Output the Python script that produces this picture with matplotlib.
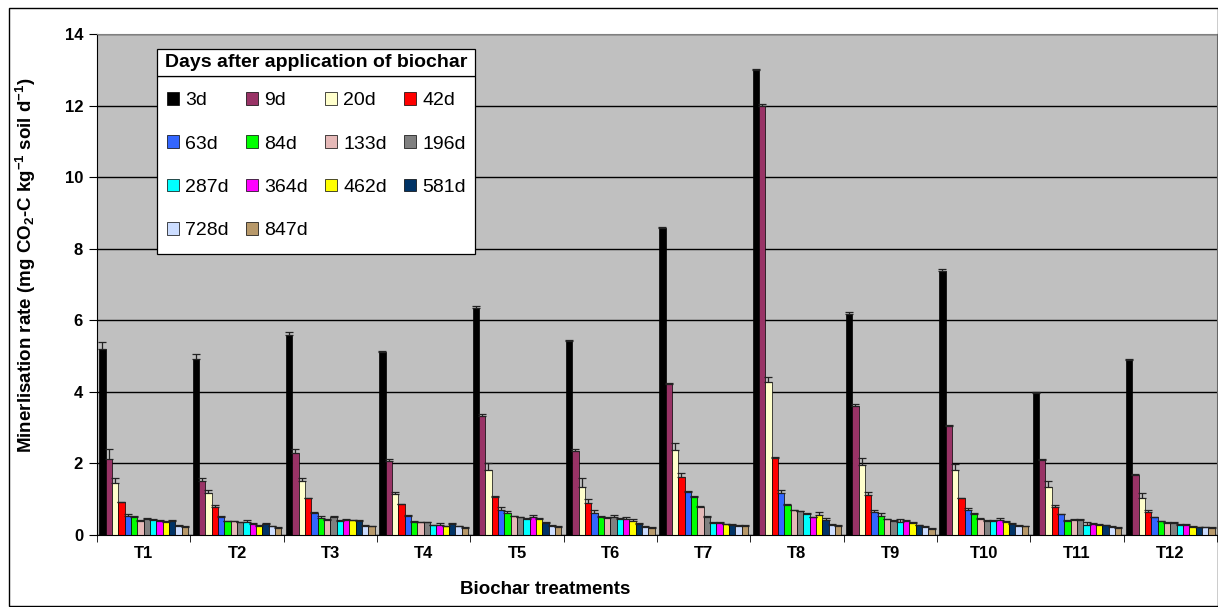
import matplotlib.pyplot as plt
import numpy as np
from matplotlib.patches import Rectangle

plt.rcParams['font.family'] = ['Liberation Sans', 'DejaVu Sans']
plt.rcParams['mathtext.fontset'] = 'custom'
plt.rcParams['mathtext.rm'] = 'Liberation Sans:bold'
plt.rcParams['mathtext.it'] = 'Liberation Sans:bold'
plt.rcParams['mathtext.bf'] = 'Liberation Sans:bold'
plt.rcParams['mathtext.default'] = 'rm'

treatments = ["T1", "T2", "T3", "T4", "T5", "T6", "T7", "T8", "T9", "T10", "T11", "T12"]
days = ["3d", "9d", "20d", "42d", "63d", "84d", "133d", "196d", "287d", "364d", "462d", "581d", "728d", "847d"]
colors = ["#000000", "#993366", "#FFFFCC", "#FF0000", "#3366FF", "#00FF00", "#E6B9B8",
          "#808080", "#00FFFF", "#FF00FF", "#FFFF00", "#003366", "#CCDDFF", "#B8996A"]

# mineralisation rate per sampling day, one value per treatment
r3d = [5.20, 4.91, 5.59, 5.11, 6.34, 5.42, 8.57, 13.0, 6.18, 7.37, 3.96, 4.89]
r9d = [2.12, 1.52, 2.30, 2.07, 3.33, 2.35, 4.22, 12.0, 3.60, 3.05, 2.09, 1.67]
r20d = [1.44, 1.17, 1.50, 1.15, 1.81, 1.35, 2.38, 4.28, 1.97, 1.83, 1.33, 1.02]
r42d = [0.91, 0.79, 1.02, 0.86, 1.06, 0.90, 1.63, 2.15, 1.13, 1.02, 0.77, 0.64]
r63d = [0.53, 0.49, 0.61, 0.54, 0.70, 0.62, 1.21, 1.18, 0.65, 0.71, 0.58, 0.49]
r84d = [0.51, 0.38, 0.47, 0.36, 0.62, 0.51, 1.05, 0.85, 0.54, 0.60, 0.40, 0.38]
r133d = [0.39, 0.38, 0.42, 0.35, 0.52, 0.47, 0.78, 0.69, 0.44, 0.46, 0.42, 0.34]
r196d = [0.45, 0.35, 0.49, 0.35, 0.49, 0.49, 0.51, 0.66, 0.40, 0.39, 0.42, 0.34]
r287d = [0.43, 0.35, 0.40, 0.27, 0.45, 0.45, 0.33, 0.59, 0.35, 0.39, 0.28, 0.29]
r364d = [0.39, 0.31, 0.41, 0.28, 0.51, 0.45, 0.33, 0.49, 0.39, 0.43, 0.32, 0.28]
r462d = [0.37, 0.25, 0.41, 0.24, 0.45, 0.39, 0.30, 0.56, 0.33, 0.36, 0.29, 0.23]
r581d = [0.40, 0.31, 0.40, 0.31, 0.34, 0.31, 0.28, 0.42, 0.27, 0.32, 0.27, 0.21]
r728d = [0.26, 0.24, 0.25, 0.24, 0.26, 0.23, 0.26, 0.29, 0.23, 0.26, 0.22, 0.21]
r847d = [0.23, 0.20, 0.24, 0.19, 0.23, 0.20, 0.26, 0.25, 0.18, 0.24, 0.20, 0.20]

# upper error bars
e3d = [0.20, 0.15, 0.08, 0.03, 0.05, 0.03, 0.03, 0.03, 0.05, 0.06, 0.03, 0.03]
e9d = [0.29, 0.08, 0.10, 0.04, 0.05, 0.05, 0.03, 0.03, 0.05, 0.03, 0.03, 0.03]
e20d = [0.15, 0.10, 0.08, 0.06, 0.20, 0.25, 0.18, 0.14, 0.19, 0.16, 0.18, 0.14]
e42d = [0.02, 0.06, 0.02, 0.02, 0.02, 0.10, 0.10, 0.03, 0.07, 0.02, 0.08, 0.07]
e63d = [0.07, 0.03, 0.02, 0.02, 0.07, 0.08, 0.03, 0.09, 0.05, 0.05, 0.02, 0.02]
e84d = [0.03, 0.02, 0.06, 0.02, 0.06, 0.02, 0.05, 0.02, 0.07, 0.02, 0.02, 0.02]
e133d = [0.02, 0.02, 0.02, 0.02, 0.02, 0.02, 0.03, 0.02, 0.02, 0.02, 0.02, 0.02]
e196d = [0.03, 0.02, 0.03, 0.02, 0.02, 0.07, 0.02, 0.02, 0.02, 0.02, 0.02, 0.02]
e287d = [0.03, 0.06, 0.02, 0.02, 0.02, 0.02, 0.02, 0.02, 0.09, 0.02, 0.07, 0.02]
e364d = [0.03, 0.02, 0.04, 0.06, 0.06, 0.06, 0.02, 0.02, 0.02, 0.05, 0.02, 0.02]
e462d = [0.02, 0.02, 0.02, 0.02, 0.02, 0.06, 0.02, 0.07, 0.04, 0.02, 0.02, 0.02]
e581d = [0.02, 0.02, 0.02, 0.02, 0.02, 0.02, 0.02, 0.05, 0.02, 0.02, 0.02, 0.02]
e728d = [0.02, 0.02, 0.02, 0.02, 0.02, 0.02, 0.02, 0.02, 0.02, 0.02, 0.02, 0.02]
e847d = [0.02, 0.02, 0.02, 0.02, 0.02, 0.02, 0.02, 0.02, 0.02, 0.02, 0.02, 0.02]

rates = [r3d, r9d, r20d, r42d, r63d, r84d, r133d, r196d, r287d, r364d, r462d, r581d, r728d, r847d]
errors = [e3d, e9d, e20d, e42d, e63d, e84d, e133d, e196d, e287d, e364d, e462d, e581d, e728d, e847d]

W, H = 1218, 607
fig = plt.figure(figsize=(W / 100, H / 100), dpi=100)
ax_l, ax_r, ax_t, ax_b = 97, 1217, 34, 535
ax = fig.add_axes([ax_l / W, 1 - ax_b / H, (ax_r - ax_l) / W, (ax_b - ax_t) / H])
ax.set_facecolor("#C0C0C0")

x = np.arange(len(treatments))
n = len(days)
bw = 0.068
handles = []
for j, (vals, errs) in enumerate(zip(rates, errors)):
    pos = x + (j - (n - 1) / 2) * bw
    b = ax.bar(pos, vals, width=bw, color=colors[j], edgecolor="black", linewidth=0.5,
               label=days[j], zorder=2)
    handles.append(b)
    ax.errorbar(pos, vals, yerr=[np.zeros(len(vals)), errs], fmt="none",
                ecolor="#222222", elinewidth=0.9, capsize=2.8, capthick=0.9, zorder=3)

ax.set_xlim(-0.5, len(treatments) - 0.5)
ax.set_ylim(0, 14)
ax.set_yticks(np.arange(0, 15, 2))
ax.yaxis.grid(True, color="black", linewidth=1.0)
ax.set_axisbelow(True)
ax.set_xticks(x)
ax.set_xticklabels(treatments, fontsize=12, fontweight="bold")
ax.set_xticks(np.arange(-0.5, len(treatments)), minor=True)
ax.tick_params(axis="x", which="major", length=0, pad=8)
ax.tick_params(axis="x", which="minor", length=5, direction="out", color="black")
ax.tick_params(axis="y", length=6, direction="out", labelsize=12, pad=4)
for lab in ax.get_yticklabels():
    lab.set_fontweight("bold")
for s in ["top", "right"]:
    ax.spines[s].set_color("#808080")
ax.spines["left"].set_color("black")
ax.spines["bottom"].set_color("black")

ax.set_ylabel(r"Minerlisation rate (mg CO$_2$-C kg$^{-1}$ soil d$^{-1}$)",
              fontsize=13.5, fontweight="bold")
ax.yaxis.set_label_coords((38 - ax_l) / (ax_r - ax_l), (ax_b - 265) / (ax_b - ax_t))
fig.text(545 / W, 1 - 590 / H, "Biochar treatments", fontsize=13.5, fontweight="bold",
         ha="center", va="center")


def ax_xy(px, py):
    return (px - ax_l) / (ax_r - ax_l), (ax_b - py) / (ax_b - ax_t)


# legend frame + title box
x0, y0 = ax_xy(157, 254)
x1, y1 = ax_xy(475, 76)
ax.add_patch(Rectangle((x0, y0), x1 - x0, y1 - y0, transform=ax.transAxes,
                       facecolor="white", edgecolor="black", linewidth=0.9, zorder=4))
tx0, ty0 = ax_xy(157, 76)
tx1, ty1 = ax_xy(475, 49)
ax.add_patch(Rectangle((tx0, ty0), tx1 - tx0, ty1 - ty0, transform=ax.transAxes,
                       facecolor="white", edgecolor="black", linewidth=0.9, zorder=4))
ax.text((tx0 + tx1) / 2, (ty0 + ty1) / 2, "Days after application of biochar",
        transform=ax.transAxes, ha="center", va="center", fontsize=14,
        fontweight="bold", zorder=5)

# matplotlib fills legend columns first; reorder so entries read row by row
order = [0, 4, 8, 12, 1, 5, 9, 13, 2, 6, 10, 3, 7, 11]
lx, ly = ax_xy(167, 92)
leg = ax.legend([handles[i] for i in order], [days[i] for i in order],
                loc="upper left", bbox_to_anchor=(lx, ly), ncol=4, frameon=False,
                fontsize=14, handlelength=0.62, handleheight=0.62, handletextpad=0.3,
                columnspacing=0.9, labelspacing=1.35, borderpad=0, borderaxespad=0)
leg.set_zorder(6)

fig.add_artist(Rectangle((9 / W, 1 - 606 / H), (W - 9) / W, (606 - 8) / H,
                         transform=fig.transFigure, fill=False, edgecolor="black",
                         linewidth=1.0))

fig.savefig("out.png", dpi=100)
